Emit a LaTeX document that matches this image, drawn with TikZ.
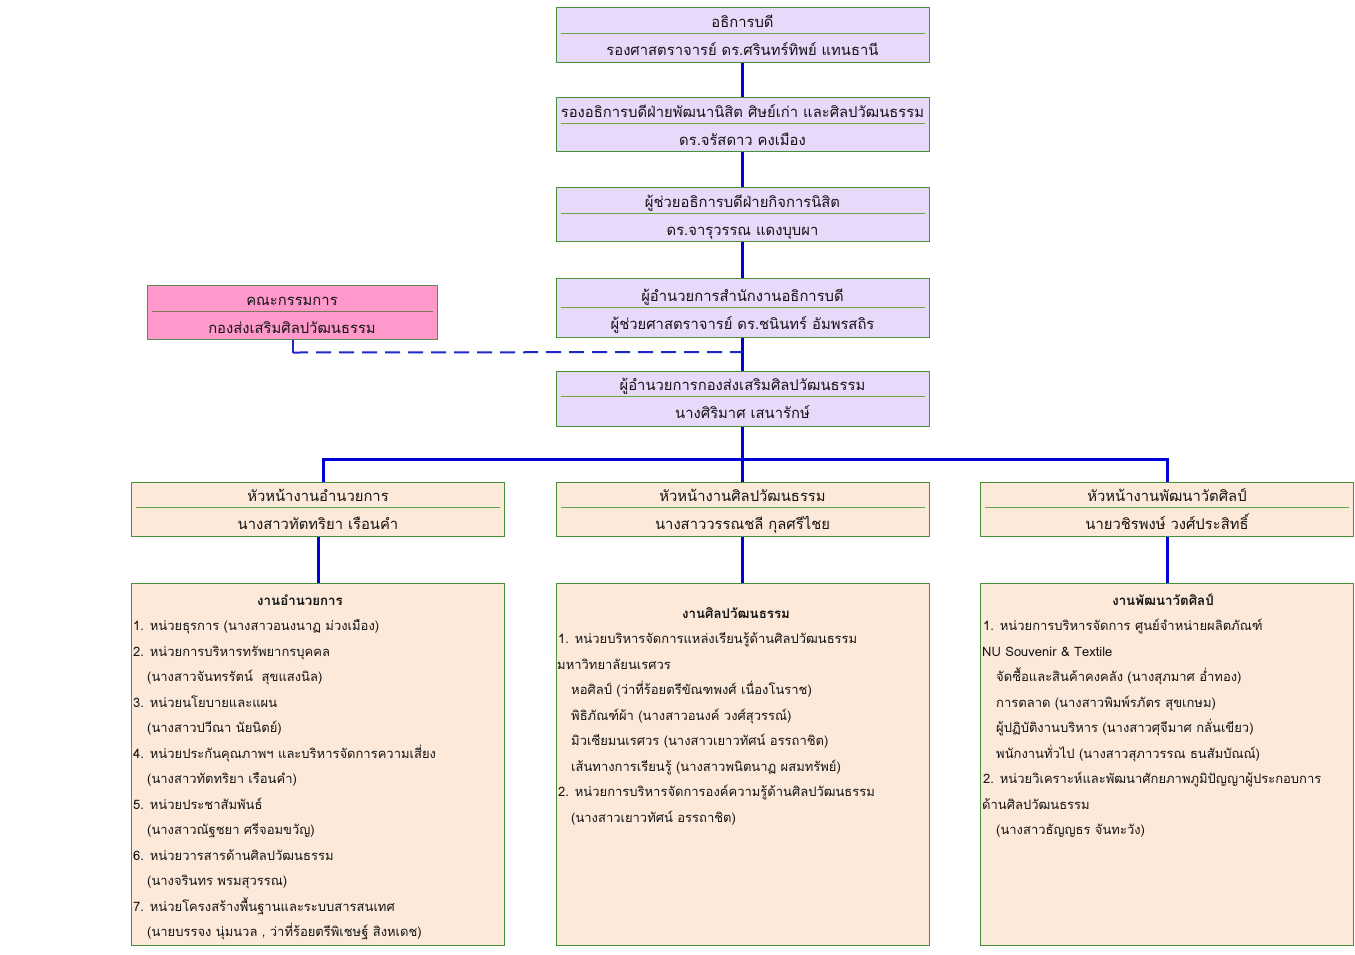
\documentclass[tikz,border=0pt]{standalone}
\usepackage{fontspec}
\setmainfont[Script=Thai]{Loma}
\usetikzlibrary{calc}
\definecolor{lav}{RGB}{232,216,250}
\definecolor{pinkf}{RGB}{255,153,204}
\definecolor{peach}{RGB}{252,233,218}
\definecolor{bgreen}{RGB}{70,145,55}
\definecolor{dgreen}{RGB}{100,165,75}
\definecolor{pdiv}{RGB}{120,120,90}
\definecolor{conblue}{RGB}{0,0,220}
\definecolor{dashblue}{RGB}{30,40,200}
\definecolor{txt}{RGB}{20,20,20}
\newcommand\twobox[9]{%
  \node[#5, minimum height=#4pt] (#1) at (#2, #3+#4/2) {};
  \draw[#9] ($(#1.north west)+(5,#6)$) -- ($(#1.north east)+(-5,#6)$);
  \node[headtext] at ($(#1.north)+(0,#6-6)$) {#7};
  \node[headtext] at ($(#1.north)+(0,#6+22)$) {#8};
}
\begin{document}
\begin{tikzpicture}[x=1pt,y=-1pt,
  mainbox/.style={draw=bgreen, line width=1pt, fill=lav, minimum width=373pt, inner sep=0pt},
  pinkbox/.style={draw=bgreen!60!gray, line width=1pt, fill=pinkf, minimum width=290pt, inner sep=0pt},
  headbox/.style={draw=bgreen, line width=1pt, fill=peach, minimum width=373pt, inner sep=0pt},
  bodybox/.style={draw=bgreen, line width=1pt, fill=peach, minimum width=373pt, minimum height=362pt, inner sep=0pt},
  gdiv/.style={draw=dgreen, line width=1.7pt},
  pdivl/.style={draw=pdiv, line width=1.7pt},
  headtext/.style={anchor=base, inner sep=0pt, text=txt, font=\fontsize{14.8}{18}\selectfont},
  bodytext/.style={anchor=base west, inner sep=0pt, text=txt, font=\fontsize{13}{16}\selectfont},
  titletext/.style={anchor=base, inner sep=0pt, text=txt, font=\fontsize{13.3}{16}\selectfont\bfseries},
  conn/.style={draw=conblue, line width=3pt},
  dashconn/.style={draw=dashblue, line width=2pt, dash pattern=on 15pt off 8pt}
]
\useasboundingbox[fill=white] (0,0) rectangle (1355,954);

\twobox{b1}{742.5}{7}{55}{mainbox}{27}{อธิการบดี}{รองศาสตราจารย์ ดร.ศรินทร์ทิพย์ แทนธานี}{gdiv}
\twobox{b2}{742.5}{97}{54}{mainbox}{27}{รองอธิการบดีฝ่ายพัฒนานิสิต ศิษย์เก่า และศิลปวัฒนธรรม}{ดร.จรัสดาว คงเมือง}{gdiv}
\twobox{b3}{742.5}{187}{54}{mainbox}{27}{ผู้ช่วยอธิการบดีฝ่ายกิจการนิสิต}{ดร.จารุวรรณ แดงบุบผา}{gdiv}
\twobox{b4}{742.5}{278}{59}{mainbox}{30}{ผู้อำนวยการสำนักงานอธิการบดี}{ผู้ช่วยศาสตราจารย์ ดร.ชนินทร์ อัมพรสถิร}{gdiv}
\twobox{pink}{292}{285}{54}{pinkbox}{27}{คณะกรรมการ}{กองส่งเสริมศิลปวัฒนธรรม}{pdivl}
\twobox{b5}{742.5}{371}{55}{mainbox}{26}{ผู้อำนวยการกองส่งเสริมศิลปวัฒนธรรม}{นางศิริมาศ เสนารักษ์}{gdiv}
\twobox{h1}{318}{482}{54}{headbox}{26}{หัวหน้างานอำนวยการ}{นางสาวทัตทริยา เรือนคำ}{gdiv}
\twobox{h2}{742.5}{482}{54}{headbox}{26}{หัวหน้างานศิลปวัฒนธรรม}{นางสาววรรณชลี กุลศรีไชย}{gdiv}
\twobox{h3}{1167}{482}{54}{headbox}{26}{หัวหน้างานพัฒนาวัตศิลป์}{นายวชิรพงษ์ วงศ์ประสิทธิ์}{gdiv}

\node[bodybox] (w1) at (318,764.5) {};
\node[bodybox] (w2) at (742.5,764.5) {};
\node[bodybox] (w3) at (1167,764.5) {};

% connectors
\draw[conn] (b1.south) -- (b2.north);
\draw[conn] (b2.south) -- (b3.north);
\draw[conn] (b3.south) -- (b4.north);
\draw[conn] (b4.south) -- (b5.north);
\draw[conn] (b5.south) -- (h2.north);
\coordinate (bus) at (742.5,459);
\draw[conn] ([xshift=5pt]h1.north) |- (bus) -| (h3.north);
\draw[conn] (h1.south) -- (w1.north);
\draw[conn] (h2.south) -- (w2.north);
\draw[conn] (h3.south) -- (w3.north);
\coordinate (dashend) at (742.5,352);
\draw[dashblue, line width=2pt] ([xshift=1pt]pink.south) -- ++(0,13);
\draw[dashconn] ([xshift=1pt,yshift=-13pt]pink.south) -- (dashend);

% body texts
\node[titletext] at (300,605) {งานอำนวยการ};
\foreach [count=\i] \xx/\t in {133/{1. หน่วยธุรการ (นางสาวอนงนาฏ ม่วงเมือง)},
  133/{2. หน่วยการบริหารทรัพยากรบุคคล},
  147/{(นางสาวจันทรรัตน์\ \ สุขแสงนิล)},
  133/{3. หน่วยนโยบายและแผน},
  147/{(นางสาวปวีณา นัยนิตย์)},
  133/{4. หน่วยประกันคุณภาพฯ และบริหารจัดการความเสี่ยง},
  147/{(นางสาวทัตทริยา เรือนคำ)},
  133/{5. หน่วยประชาสัมพันธ์},
  147/{(นางสาวณัฐชยา ศรีจอมขวัญ)},
  133/{6. หน่วยวารสารด้านศิลปวัฒนธรรม},
  147/{(นางจรินทร พรมสุวรรณ)},
  133/{7. หน่วยโครงสร้างพื้นฐานและระบบสารสนเทศ},
  147/{(นายบรรจง นุ่มนวล , ว่าที่ร้อยตรีพิเชษฐ์ สิงหเดช)}}
  \node[bodytext] at (\xx, 605+25.5*\i) {\t};

\node[titletext] at (736,618) {งานศิลปวัฒนธรรม};
\foreach [count=\i] \xx/\t in {558/{1. หน่วยบริหารจัดการแหล่งเรียนรู้ด้านศิลปวัฒนธรรม},
  557/{มหาวิทยาลัยนเรศวร},
  571/{หอศิลป์ (ว่าที่ร้อยตรีขัณฑพงศ์ เนื่องโนราช)},
  571/{พิธิภัณฑ์ผ้า (นางสาวอนงค์ วงศ์สุวรรณ์)},
  571/{มิวเซียมนเรศวร (นางสาวเยาวทัศน์ อรรถาชิต)},
  571/{เส้นทางการเรียนรู้ (นางสาวพนิตนาฏ ผสมทรัพย์)},
  558/{2. หน่วยการบริหารจัดการองค์ความรู้ด้านศิลปวัฒนธรรม},
  571/{(นางสาวเยาวทัศน์ อรรถาชิต)}}
  \node[bodytext] at (\xx, 618+25.5*\i) {\t};

\node[titletext] at (1163,605) {งานพัฒนาวัตศิลป์};
\foreach [count=\i] \xx/\t in {983/{1. หน่วยการบริหารจัดการ ศูนย์จำหน่ายผลิตภัณฑ์},
  982/{NU Souvenir \& Textile},
  996/{จัดซื้อและสินค้าคงคลัง (นางสุภมาศ อ่ำทอง)},
  996/{การตลาด (นางสาวพิมพ์รภัตร สุขเกษม)},
  996/{ผู้ปฏิบัติงานบริหาร (นางสาวศุจีมาศ กลั่นเขียว)},
  996/{พนักงานทั่วไป (นางสาวสุภาวรรณ ธนสัมบัณณ์)},
  983/{2. หน่วยวิเคราะห์และพัฒนาศักยภาพภูมิปัญญาผู้ประกอบการ},
  982/{ด้านศิลปวัฒนธรรม},
  996/{(นางสาวธัญญธร จันทะวัง)}}
  \node[bodytext] at (\xx, 605+25.5*\i) {\t};
\end{tikzpicture}
\end{document}
